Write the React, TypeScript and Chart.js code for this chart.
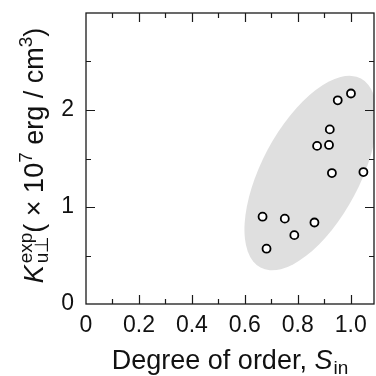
import React, { useEffect, useRef } from 'react';
import { Chart, registerables } from 'chart.js';

Chart.register(...registerables);

// Degree of order S_in for each sample
const orderS = [0.667, 0.682, 0.751, 0.787, 0.863, 0.873, 0.921, 0.918, 0.929, 0.951, 1.001, 1.048];
// Measured perpendicular anisotropy (x 10^7 erg / cm^3)
const anisotropyK = [0.9, 0.57, 0.88, 0.71, 0.84, 1.63, 1.8, 1.64, 1.35, 2.1, 2.17, 1.36];

const xTickLabels = ['0', '0.2', '0.4', '0.6', '0.8', '1.0'];
const yTickLabels = ['0', '1', '2'];

// Shaded guide ellipse around the data cloud (center in data units)
const ellipseCenter = { x: 0.849, y: 1.35 };

const FONT = '"Liberation Sans", Arial, Helvetica, sans-serif';

const framePlugin = {
  id: 'frameAndTitles',
  beforeDatasetsDraw(chart: any) {
    const { ctx, chartArea, scales } = chart;
    const cx = scales.x.getPixelForValue(ellipseCenter.x);
    const cy = scales.y.getPixelForValue(ellipseCenter.y);
    ctx.save();
    ctx.beginPath();
    ctx.rect(chartArea.left, chartArea.top, chartArea.right - chartArea.left, chartArea.bottom - chartArea.top);
    ctx.clip();
    ctx.beginPath();
    ctx.ellipse(cx, cy, 107, 49, (-62 * Math.PI) / 180, 0, Math.PI * 2);
    ctx.fillStyle = '#dfdfdf';
    ctx.fill();
    ctx.restore();
  },
  afterDraw(chart: any) {
    const { ctx, chartArea, scales } = chart;
    const { left, right, top, bottom } = chartArea;
    ctx.save();
    ctx.strokeStyle = '#1a1a1a';
    ctx.lineWidth = 1.3;
    ctx.strokeRect(left, top, right - left, bottom - top);

    // inward tick marks on all four sides: long at labelled values, short between
    ctx.lineWidth = 1.2;
    ctx.beginPath();
    for (const t of scales.x.ticks) {
      const px = Math.round(scales.x.getPixelForValue(t.value)) + 0.5;
      if (px <= left + 1 || px >= right - 1) continue;
      const len = Math.round(t.value * 10) % 2 === 0 ? 9 : 5;
      ctx.moveTo(px, bottom);
      ctx.lineTo(px, bottom - len);
      ctx.moveTo(px, top);
      ctx.lineTo(px, top + len);
    }
    for (const t of scales.y.ticks) {
      const py = Math.round(scales.y.getPixelForValue(t.value)) + 0.5;
      if (py <= top + 1 || py >= bottom - 1) continue;
      const len = Number.isInteger(t.value) ? 9 : 5;
      ctx.moveTo(left, py);
      ctx.lineTo(left + len, py);
      ctx.moveTo(right, py);
      ctx.lineTo(right - len, py);
    }
    ctx.stroke();

    ctx.fillStyle = '#111';
    ctx.textBaseline = 'alphabetic';
    ctx.textAlign = 'left';

    const big = `27px ${FONT}`;
    const bigIt = `italic 27px ${FONT}`;
    const small = `19px ${FONT}`;

    // x-axis title: Degree of order, S_in
    {
      const part1 = 'Degree of order, ';
      ctx.font = big;
      const w1 = ctx.measureText(part1).width;
      ctx.font = bigIt;
      const w2 = ctx.measureText('S').width;
      ctx.font = small;
      const w3 = ctx.measureText('in').width;
      const total = w1 + w2 + 1 + w3;
      let x = (left + right) / 2 - total / 2;
      const y = 369;
      ctx.font = big;
      ctx.fillText(part1, x, y);
      x += w1;
      ctx.font = bigIt;
      ctx.fillText('S', x, y);
      x += w2 + 1;
      ctx.font = small;
      ctx.fillText('in', x, y + 5);
    }

    // y-axis title: K_u⊥^exp ( × 10^7 erg / cm^3)
    {
      ctx.save();
      const cyMid = (top + bottom) / 2 - 3;
      ctx.translate(43, cyMid);
      ctx.rotate(-Math.PI / 2);
      const segs: { t: string; f: string; dy: number; stackWith?: string }[] = [
        { t: 'K', f: bigIt, dy: 0 },
        { t: 'u\u22a5', f: small, dy: 5, stackWith: 'exp' },
        { t: '( \u00d7 10', f: big, dy: 0 },
        { t: '7', f: small, dy: -11 },
        { t: ' erg / cm', f: big, dy: 0 },
        { t: '3', f: small, dy: -11 },
        { t: ')', f: big, dy: 0 },
      ];
      const widths = segs.map((s) => {
        ctx.font = s.f;
        let w = ctx.measureText(s.t).width;
        if (s.stackWith) w = Math.max(w, ctx.measureText(s.stackWith).width);
        return w;
      });
      const total = widths.reduce((a, b) => a + b, 0) + 2;
      let x = -total / 2;
      segs.forEach((s, i) => {
        ctx.font = s.f;
        ctx.fillText(s.t, x, s.dy);
        if (s.stackWith) ctx.fillText(s.stackWith, x, -11);
        x += widths[i] + (i === 0 ? 2 : 0);
      });
      ctx.restore();
    }
    ctx.restore();
  },
};

export default function App() {
  const canvasRef = useRef<HTMLCanvasElement | null>(null);

  useEffect(() => {
    const canvas = canvasRef.current;
    if (!canvas) return;
    const chart = new Chart(canvas, {
      type: 'scatter',
      data: {
        datasets: [
          {
            data: orderS.map((x, i) => ({ x, y: anisotropyK[i] })),
            pointStyle: 'circle',
            pointRadius: 4,
            pointHoverRadius: 4,
            pointBackgroundColor: '#ffffff',
            pointBorderColor: '#000000',
            pointBorderWidth: 1.8,
          },
        ],
      },
      options: {
        responsive: false,
        animation: false,
        events: [],
        layout: { autoPadding: false, padding: { top: 13, right: 2, left: 0, bottom: 0 } },
        plugins: { legend: { display: false }, tooltip: { enabled: false } },
        scales: {
          x: {
            type: 'linear',
            min: 0,
            max: 1.088,
            grid: { display: false, drawTicks: false },
            border: { display: false },
            ticks: {
              stepSize: 0.1,
              includeBounds: false,
              autoSkip: false,
              maxRotation: 0,
              padding: 8,
              color: '#111',
              font: { family: FONT, size: 23 },
              callback: (v: any) => {
                const k = Math.round(Number(v) * 10);
                return k % 2 === 0 ? xTickLabels[k / 2] ?? '' : '';
              },
            },
            afterFit: (scale: any) => {
              scale.height = 72;
              scale.paddingLeft = 0;
              scale.paddingRight = 0;
              scale.paddingTop = 0;
              scale.paddingBottom = 0;
            },
          },
          y: {
            type: 'linear',
            min: 0,
            max: 3,
            grid: { display: false, drawTicks: false },
            border: { display: false },
            ticks: {
              stepSize: 0.5,
              includeBounds: false,
              autoSkip: false,
              padding: 12,
              color: '#111',
              font: { family: FONT, size: 23 },
              callback: (v: any) => {
                const n = Number(v);
                return Number.isInteger(n) ? yTickLabels[n] ?? '' : '';
              },
            },
            afterFit: (scale: any) => {
              scale.width = 86;
              scale.paddingLeft = 0;
              scale.paddingRight = 0;
              scale.paddingTop = 0;
              scale.paddingBottom = 0;
            },
          },
        },
      },
      plugins: [framePlugin],
    });
    return () => chart.destroy();
  }, []);

  return (
    <div style={{ position: 'fixed', left: 0, top: 0, width: 376, height: 376, background: '#fff' }}>
      <canvas ref={canvasRef} width={376} height={376} style={{ width: 376, height: 376, display: 'block' }} />
    </div>
  );
}
